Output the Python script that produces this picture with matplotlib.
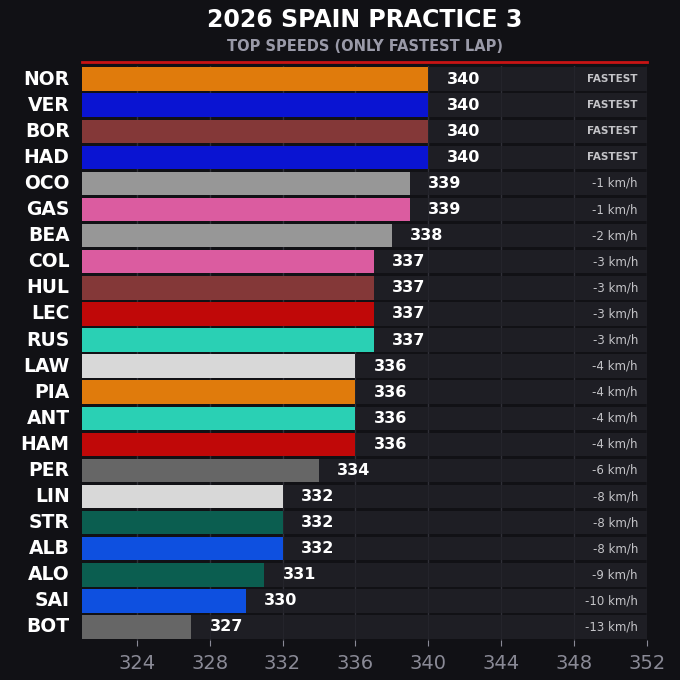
import matplotlib.pyplot as plt

# ---------- data ----------
drivers = ["NOR", "VER", "BOR", "HAD", "OCO", "GAS", "BEA", "COL", "HUL", "LEC", "RUS",
           "LAW", "PIA", "ANT", "HAM", "PER", "LIN", "STR", "ALB", "ALO", "SAI", "BOT"]
speeds = [340, 340, 340, 340, 339, 339, 338, 337, 337, 337, 337,
          336, 336, 336, 336, 334, 332, 332, 332, 331, 330, 327]
gaps = ["FASTEST", "FASTEST", "FASTEST", "FASTEST", "-1 km/h", "-1 km/h", "-2 km/h",
        "-3 km/h", "-3 km/h", "-3 km/h", "-3 km/h", "-4 km/h", "-4 km/h", "-4 km/h",
        "-4 km/h", "-6 km/h", "-8 km/h", "-8 km/h", "-8 km/h", "-9 km/h", "-10 km/h", "-13 km/h"]
colors = ["#e07b0c", "#0a14d2", "#843838", "#0a14d2", "#979797", "#db5ca0", "#979797",
          "#db5ca0", "#843838", "#c00808", "#2ad0b4", "#d8d8d8", "#e07b0c", "#2ad0b4",
          "#c00808", "#666666", "#d8d8d8", "#0b5e50", "#0e50e0", "#0b5e50", "#0e50e0", "#666666"]
xticks = [324, 328, 332, 336, 340, 344, 348, 352]

XMIN, XMAX = 321, 352
BG = "#111115"
BAND = "#1e1e24"

fig = plt.figure(figsize=(6.8, 6.8), dpi=100, facecolor=BG)
ax = fig.add_axes([0.1206, 0.0588, 0.831, 0.844], facecolor=BG)

ypos = list(range(len(drivers)))
for x in xticks:
    ax.axvline(x, color="#2e2e36", lw=1, zorder=0)
    ax.axvline(x, color="#34343c", lw=0.8, alpha=0.3, zorder=1.5)
ax.barh(ypos, [XMAX - XMIN] * len(drivers), left=XMIN, height=0.9, color=BAND, zorder=1)
ax.barh(ypos, [s - XMIN for s in speeds], left=XMIN, height=0.9, color=colors, zorder=2)

for y, name, s, g in zip(ypos, drivers, speeds, gaps):
    ax.text(s + 1.0, y, str(s), color="white", fontsize=11.5, fontweight="heavy",
            va="center", ha="left", zorder=3)
    ax.text(XMAX - 0.5, y, g, color="#c4c4c8", fontsize=7.5 if g == "FASTEST" else 8.5,
            fontweight="semibold" if g == "FASTEST" else "normal",
            va="center", ha="right", zorder=3)
    ax.text(-0.022, y, name, transform=ax.get_yaxis_transform(),
            color="white", fontsize=13.5, fontweight="heavy", va="center", ha="right")

ax.set_xlim(XMIN, XMAX)
ax.set_ylim(len(drivers) - 0.5, -0.5)
ax.set_yticks([])
ax.set_xticks(xticks)
ax.tick_params(axis="x", colors="#8a8a96", labelsize=14, length=4, pad=6)
for sp in ax.spines.values():
    sp.set_visible(False)

fig.text(0.537, 0.970, "2026 SPAIN PRACTICE 3", color="white", fontsize=17,
         fontweight="heavy", ha="center", va="center")
fig.text(0.537, 0.931, "TOP SPEEDS (ONLY FASTEST LAP)", color="#9a9aa8", fontsize=10.5,
         fontweight="semibold", ha="center", va="center")
fig.add_artist(plt.Line2D([0.1206, 0.9516], [0.909, 0.909], color="#c81414", lw=2))

plt.savefig("out.png", dpi=100, facecolor=BG)
